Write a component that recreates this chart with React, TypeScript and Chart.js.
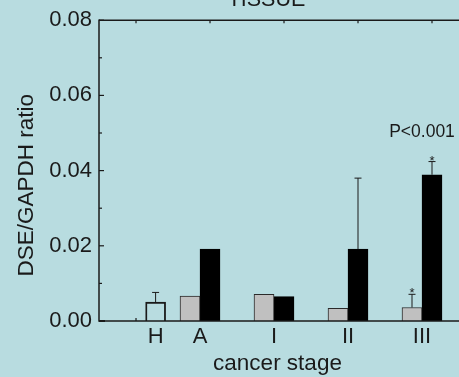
import React, { useEffect, useRef } from 'react';
import { Chart, registerables } from 'chart.js';

Chart.register(...registerables);

// ---- data ----
const chartTitle = 'TISSUE';
const stages = ['H', 'A', 'I', 'II', 'III'];
const stagePos = [0.4, 1, 2, 3, 4];
const healthyValues = [0.005];
const healthyErr = [0.0026];
const grayValues = [0.0066, 0.0071, 0.0034, 0.0036];
const grayErr = [0, 0, 0, 0.0035];
const grayStar = [false, false, false, true];
const blackValues = [0.0191, 0.0065, 0.0191, 0.0389];
const blackErr = [0, 0, 0.0189, 0.0035];
const blackStar = [false, false, false, true];
const yTicks = [0, 0.02, 0.04, 0.06, 0.08];
const yTitle = 'DSE/GAPDH ratio';
const xTitle = 'cancer stage';
const pText = 'P<0.001';

// ---- styles ----
const BG = 'rgb(184,220,224)';
const INK = '#1a1a1a';
const FONT = '"Liberation Sans", Arial, sans-serif';
const BAR_W = 20;

const errSets = [healthyErr, grayErr, blackErr];
const starSets = [[false], grayStar, blackStar];
const valueSets = [healthyValues, grayValues, blackValues];

function seg(ctx: CanvasRenderingContext2D, x1: number, y1: number, x2: number, y2: number) {
  ctx.beginPath();
  ctx.moveTo(x1, y1);
  ctx.lineTo(x2, y2);
  ctx.stroke();
}

const decor = {
  id: 'decor',
  beforeDraw(chart: any) {
    const { ctx, width, height } = chart;
    ctx.save();
    ctx.fillStyle = BG;
    ctx.fillRect(0, 0, width, height);
    ctx.restore();
  },
  beforeDatasetsDraw(chart: any) {
    const { ctx, chartArea: a, scales } = chart;
    const x = scales.x, y = scales.y;
    ctx.save();
    ctx.strokeStyle = INK;
    ctx.lineWidth = 1.2;
    for (let i = 0; i < yTicks.length; i++) {
      const py = y.getPixelForValue(yTicks[i]);
      seg(ctx, a.left, py, a.left + 5, py);
      if (i < yTicks.length - 1) {
        const pm = y.getPixelForValue((yTicks[i] + yTicks[i + 1]) / 2);
        seg(ctx, a.left, pm, a.left + 3, pm);
      }
    }
    for (let k = 0; k < stages.length; k++) {
      const px = x.getPixelForValue(k) + BAR_W / 2;
      seg(ctx, px, a.top, px, a.top + 3);
      seg(ctx, px, a.bottom, px, a.bottom - 3);
    }
    ctx.restore();
  },
  afterDatasetsDraw(chart: any) {
    const { ctx, chartArea: a, scales } = chart;
    const y = scales.y;
    ctx.save();
    ctx.strokeStyle = INK;
    ctx.fillStyle = INK;
    ctx.lineWidth = 1;
    let pAnchor: { x: number; y: number } | null = null;
    for (let d = 0; d < errSets.length; d++) {
      const meta = chart.getDatasetMeta(d);
      meta.data.forEach((el: any, i: number) => {
        const err = errSets[d][i];
        const top = y.getPixelForValue(valueSets[d][i] + err);
        if (err > 0) {
          seg(ctx, el.x, el.y, el.x, top);
          seg(ctx, el.x - 3.5, top, el.x + 3.5, top);
        }
        if (starSets[d][i]) {
          ctx.font = `13px ${FONT}`;
          ctx.textAlign = 'center';
          ctx.textBaseline = 'alphabetic';
          ctx.fillText('*', el.x, top + 3);
        }
        if (d === errSets.length - 1 && i === meta.data.length - 1) {
          pAnchor = { x: chart.scales.x.getPixelForValue(stagePos[i + 1]), y: top };
        }
      });
    }
    // frame
    ctx.strokeStyle = INK;
    ctx.lineWidth = 1.5;
    seg(ctx, a.left, a.top, a.right, a.top);
    seg(ctx, a.left, a.top - 0.7, a.left, a.bottom + 0.7);
    seg(ctx, a.left, a.bottom, a.right, a.bottom);
    ctx.lineWidth = 2;
    seg(ctx, a.left, a.bottom, a.left + 6, a.bottom);
    if (pAnchor) {
      ctx.font = `17.5px ${FONT}`;
      ctx.textAlign = 'center';
      ctx.textBaseline = 'alphabetic';
      ctx.fillText(pText, (pAnchor as any).x, (pAnchor as any).y - 25);
    }
    ctx.restore();
  },
  afterDraw(chart: any) {
    const { ctx, chartArea: a } = chart;
    ctx.save();
    ctx.fillStyle = INK;
    ctx.textAlign = 'center';
    ctx.textBaseline = 'alphabetic';
    ctx.font = `21.5px ${FONT}`;
    ctx.fillText(chartTitle, a.left + 167.5, a.top - 14);
    ctx.font = `22.5px ${FONT}`;
    ctx.fillText(xTitle, a.left + 178.5, a.bottom + 49);
    ctx.translate(26.5, a.top + 165);
    ctx.rotate(-Math.PI / 2);
    ctx.textBaseline = 'middle';
    ctx.fillText(yTitle, 0, 0);
    ctx.restore();
  },
};

export default function App() {
  const ref = useRef<HTMLCanvasElement | null>(null);
  useEffect(() => {
    document.body.style.margin = '0';
    document.body.style.background = BG;
    const canvas = ref.current!;
    const tickFont = { family: FONT, size: 22 };
    const chart = new Chart(canvas, {
      type: 'bar',
      data: {
        datasets: [
          {
            label: 'healthy',
            data: healthyValues.map((v, i) => ({ x: stagePos[i], y: v })),
            backgroundColor: 'rgba(0,0,0,0)',
            borderColor: INK,
            borderWidth: 1.2,
            grouped: false,
            maxBarThickness: BAR_W,
            categoryPercentage: 1,
            barPercentage: 1,
          },
          {
            label: 'gray',
            data: grayValues.map((v, i) => ({ x: stagePos[i + 1], y: v })),
            backgroundColor: '#c0c0c0',
            borderColor: '#2a2a2a',
            borderWidth: 1,
            barThickness: BAR_W,
          },
          {
            label: 'black',
            data: blackValues.map((v, i) => ({ x: stagePos[i + 1], y: v })),
            backgroundColor: '#000000',
            borderColor: '#000000',
            borderWidth: 1,
            barThickness: BAR_W,
          },
        ],
      } as any,
      options: {
        responsive: false,
        animation: false,
        layout: { padding: { left: 0, top: 19, right: 0, bottom: 0 } },
        plugins: { legend: { display: false }, tooltip: { enabled: false }, title: { display: false } },
        scales: {
          x: {
            type: 'linear',
            offset: false,
            min: -0.365,
            max: 4.5,
            afterBuildTicks: (axis: any) => {
              axis.ticks = stagePos.map((v) => ({ value: v }));
            },
            afterFit: (s: any) => {
              s.height = 56;
            },
            ticks: {
              autoSkip: false,
              maxRotation: 0,
              padding: 3,
              color: INK,
              font: tickFont,
              callback: (_v: any, i: number) => stages[i],
            },
            grid: { display: false, drawTicks: false, offset: false },
            border: { display: false },
          },
          y: {
            min: 0,
            max: 0.08,
            afterBuildTicks: (axis: any) => {
              axis.ticks = yTicks.map((v) => ({ value: v }));
            },
            afterFit: (s: any) => {
              s.width = 99;
            },
            ticks: {
              padding: 7,
              color: INK,
              font: tickFont,
              callback: (v: any) => Number(v).toFixed(2),
            },
            grid: { display: false, drawTicks: false },
            border: { display: false },
          },
        },
      } as any,
      plugins: [decor],
    });
    return () => chart.destroy();
  }, []);
  return <canvas ref={ref} width={459} height={377} style={{ display: 'block' }} />;
}
